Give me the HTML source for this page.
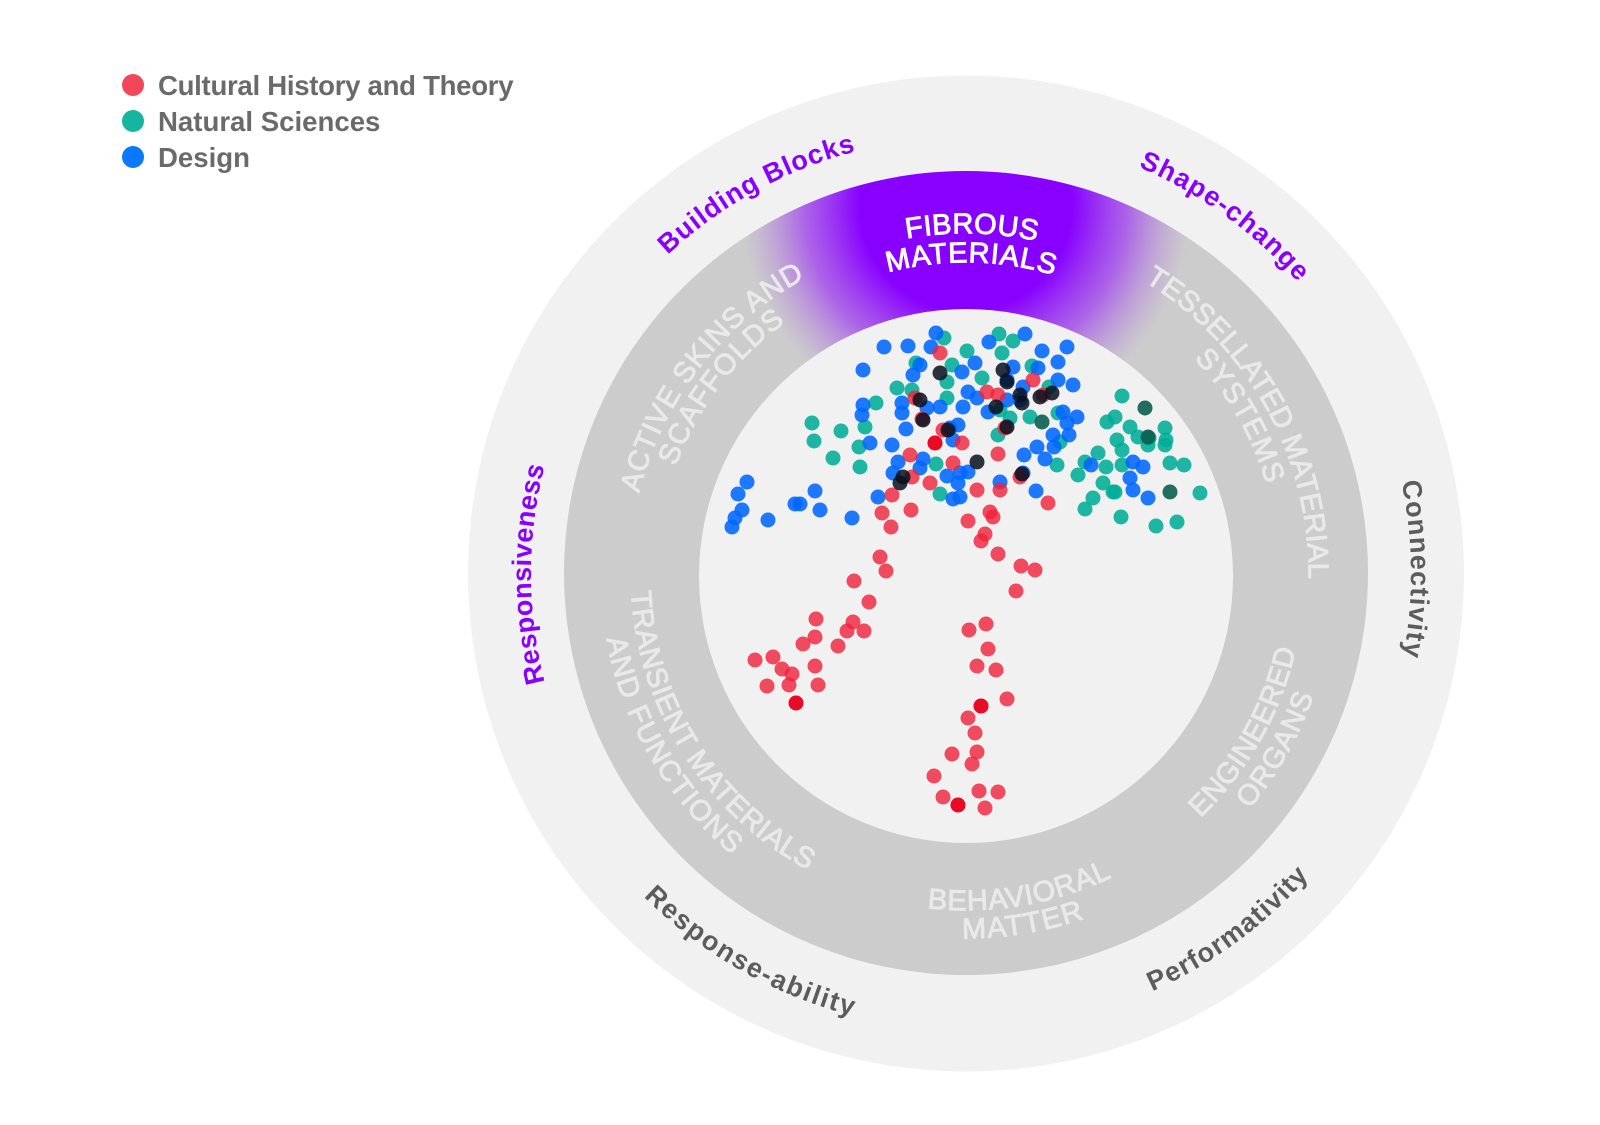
<!DOCTYPE html>
<html>
<head>
<meta charset="utf-8">
<style>
html,body{margin:0;padding:0;background:#fff;}
body{width:1600px;height:1125px;overflow:hidden;}
svg{display:block;}
.leg{font-family:"Liberation Sans",Arial,sans-serif;font-weight:bold;font-size:27.6px;fill:#6a6a6a;}
.out{font-family:"Liberation Sans",Arial,sans-serif;font-weight:bold;font-size:27px;}
.ring{font-family:"Liberation Sans",Arial,sans-serif;font-weight:normal;font-size:29px;fill:#e9e9e9;stroke:#e9e9e9;stroke-width:0.9px;}
.wh{fill:#ffffff;stroke:#ffffff;}
</style>
</head>
<body>
<svg width="1600" height="1125" viewBox="0 0 1600 1125" xmlns="http://www.w3.org/2000/svg">
<defs>
  <radialGradient id="pg" gradientUnits="userSpaceOnUse" cx="966" cy="205" r="225">
    <stop offset="0" stop-color="#8800ff" stop-opacity="1"/>
    <stop offset="0.47" stop-color="#8800ff" stop-opacity="1"/>
    <stop offset="0.72" stop-color="#9a2cf6" stop-opacity="0.65"/>
    <stop offset="1" stop-color="#b070e0" stop-opacity="0"/>
  </radialGradient>
  <path id="pc437" d="M-437 0A437 437 0 0 1 437 0"/>
  <path id="pc442" d="M-442 0A442 442 0 0 1 442 0"/>
  <path id="pc435" d="M-435 0A435 435 0 0 1 435 0"/>
  <path id="pc445" d="M-445 0A445 445 0 0 1 445 0"/>
  <path id="pc340" d="M-340.6 0A340.6 340.6 0 0 1 340.6 0"/>
  <path id="pc311" d="M-311.6 0A311.6 311.6 0 0 1 311.6 0"/>
  <path id="pc336" d="M-336.6 0A336.6 336.6 0 0 1 336.6 0"/>
  <path id="pc309" d="M-309.6 0A309.6 309.6 0 0 1 309.6 0"/>
  <path id="pc342" d="M-342.6 0A342.6 342.6 0 0 1 342.6 0"/>
  <path id="pc313" d="M-313.6 0A313.6 313.6 0 0 1 313.6 0"/>
  <path id="pa456" d="M-456 0A456 456 0 0 0 456 0"/>
  <path id="pa457" d="M-457 0A457 457 0 0 0 457 0"/>
  <path id="pa338" d="M-338.4 0A338.4 338.4 0 0 0 338.4 0"/>
  <path id="pa368" d="M-368.4 0A368.4 368.4 0 0 0 368.4 0"/>
  <path id="pa336" d="M-336.4 0A336.4 336.4 0 0 0 336.4 0"/>
  <path id="pa364" d="M-364.4 0A364.4 364.4 0 0 0 364.4 0"/>
  <path id="pa335" d="M-335.4 0A335.4 335.4 0 0 0 335.4 0"/>
  <path id="pa365" d="M-365.4 0A365.4 365.4 0 0 0 365.4 0"/>
</defs>

<!-- Legend -->
<circle cx="133" cy="85" r="11" fill="#f2475a"/>
<circle cx="133" cy="121" r="11" fill="#15b5a0"/>
<circle cx="133" cy="157" r="11" fill="#0a78ff"/>
<text class="leg" x="158" y="95" style="letter-spacing:-0.3px">Cultural History and Theory</text>
<text class="leg" x="158" y="131">Natural Sciences</text>
<text class="leg" x="158" y="167">Design</text>

<!-- Rings -->
<circle cx="966" cy="573.5" r="498" fill="#f1f1f1"/>
<circle cx="966" cy="573" r="402" fill="#cccccc"/>
<circle cx="966" cy="573" r="402" fill="url(#pg)"/>
<circle cx="966" cy="576" r="267" fill="#f1f1f1"/>

<!-- Outer labels -->
<text class="out" fill="#8800ff" letter-spacing="0.9" text-anchor="middle" transform="translate(966,574) rotate(-28.8)"><textPath href="#pc437" startOffset="50%">Building Blocks</textPath></text>
<text class="out" fill="#8800ff" letter-spacing="1.27" text-anchor="middle" transform="translate(966,574) rotate(35.9)"><textPath href="#pc442" startOffset="50%">Shape-change</textPath></text>
<text class="out" fill="#8800ff" letter-spacing="0.4" text-anchor="middle" transform="translate(966,574) rotate(-90)"><textPath href="#pc435" startOffset="50%">Responsiveness</textPath></text>
<text class="out" fill="#5c5c5c" letter-spacing="1.2" text-anchor="middle" transform="translate(966,574) rotate(89.4)"><textPath href="#pc445" startOffset="50%">Connectivity</textPath></text>
<text class="out" fill="#5c5c5c" letter-spacing="1.8" text-anchor="middle" transform="translate(966,574) rotate(29.6)"><textPath href="#pa456" startOffset="50%">Response-ability</textPath></text>
<text class="out" fill="#5c5c5c" letter-spacing="1.1" text-anchor="middle" transform="translate(966,574) rotate(-36.4)"><textPath href="#pa457" startOffset="50%">Performativity</textPath></text>

<!-- Ring labels -->
<text class="ring wh" letter-spacing="0.33" text-anchor="middle" transform="translate(966,574) rotate(1)"><textPath href="#pc340" startOffset="50%">FIBROUS</textPath></text>
<text class="ring wh" letter-spacing="0.73" text-anchor="middle" transform="translate(966,574) rotate(1)"><textPath href="#pc311" startOffset="50%">MATERIALS</textPath></text>
<text class="ring" letter-spacing="0.78" text-anchor="middle" transform="translate(966,574) rotate(-52.3)"><textPath href="#pc336" startOffset="50%">ACTIVE SKINS AND</textPath></text>
<text class="ring" letter-spacing="1.2" text-anchor="middle" transform="translate(966,574) rotate(-52.6)"><textPath href="#pc309" startOffset="50%">SCAFFOLDS</textPath></text>
<text class="ring" letter-spacing="0.1" text-anchor="middle" transform="translate(966,574) rotate(61.1)"><textPath href="#pc342" startOffset="50%">TESSELLATED MATERIAL</textPath></text>
<text class="ring" letter-spacing="1.3" text-anchor="middle" transform="translate(966,574) rotate(60.1)"><textPath href="#pc313" startOffset="50%">SYSTEMS</textPath></text>
<text class="ring" letter-spacing="0.5" text-anchor="middle" transform="translate(966,574) rotate(-60.5)"><textPath href="#pa338" startOffset="50%">ENGINEERED</textPath></text>
<text class="ring" letter-spacing="1.06" text-anchor="middle" transform="translate(966,574) rotate(-60.6)"><textPath href="#pa368" startOffset="50%">ORGANS</textPath></text>
<text class="ring" letter-spacing="0.75" text-anchor="middle" transform="translate(966,574) rotate(-9.6)"><textPath href="#pa336" startOffset="50%">BEHAVIORAL</textPath></text>
<text class="ring" letter-spacing="1.5" text-anchor="middle" transform="translate(966,574) rotate(-9.3)"><textPath href="#pa364" startOffset="50%">MATTER</textPath></text>
<text class="ring" letter-spacing="0.6" text-anchor="middle" transform="translate(966,574) rotate(57.5)"><textPath href="#pa335" startOffset="50%">TRANSIENT MATERIALS</textPath></text>
<text class="ring" letter-spacing="1.4" text-anchor="middle" transform="translate(966,574) rotate(59.7)"><textPath href="#pa365" startOffset="50%">AND FUNCTIONS</textPath></text>

<!-- Teal dots -->
<g fill="#00ad96" fill-opacity="0.88">
<circle cx="944" cy="338" r="7.5"/><circle cx="999" cy="334" r="7.5"/><circle cx="1013" cy="341" r="7.5"/><circle cx="967" cy="351" r="7.5"/>
<circle cx="1002" cy="353" r="7.5"/><circle cx="952" cy="365" r="7.5"/><circle cx="1032" cy="366" r="7.5"/><circle cx="897" cy="388" r="7.5"/>
<circle cx="912" cy="390" r="7.5"/><circle cx="947" cy="382" r="7.5"/><circle cx="982" cy="378" r="7.5"/><circle cx="876" cy="403" r="7.5"/>
<circle cx="865" cy="427" r="7.5"/><circle cx="812" cy="423" r="7.5"/><circle cx="814" cy="441" r="7.5"/><circle cx="841" cy="431" r="7.5"/>
<circle cx="833" cy="458" r="7.5"/><circle cx="859" cy="447" r="7.5"/><circle cx="860" cy="467" r="7.5"/><circle cx="947" cy="398" r="7.5"/>
<circle cx="1010" cy="418" r="7.5"/><circle cx="1030" cy="417" r="7.5"/><circle cx="998" cy="435" r="7.5"/><circle cx="936" cy="464" r="7.5"/>
<circle cx="940" cy="494" r="7.5"/><circle cx="1057" cy="465" r="7.5"/><circle cx="1122" cy="396" r="7.5"/><circle cx="1115" cy="417" r="7.5"/>
<circle cx="1107" cy="422" r="7.5"/><circle cx="1130" cy="427" r="7.5"/><circle cx="1138" cy="437" r="7.5"/><circle cx="1149" cy="438" r="7.5"/>
<circle cx="1165" cy="428" r="7.5"/><circle cx="1165" cy="445" r="7.5"/><circle cx="1148" cy="445" r="7.5"/><circle cx="1117" cy="440" r="7.5"/>
<circle cx="1122" cy="450" r="7.5"/><circle cx="1098" cy="453" r="7.5"/><circle cx="1085" cy="462" r="7.5"/><circle cx="1106" cy="467" r="7.5"/>
<circle cx="1122" cy="465" r="7.5"/><circle cx="1078" cy="475" r="7.5"/><circle cx="1103" cy="483" r="7.5"/><circle cx="1115" cy="492" r="7.5"/>
<circle cx="1170" cy="463" r="7.5"/><circle cx="1184" cy="465" r="7.5"/><circle cx="1200" cy="493" r="7.5"/><circle cx="1093" cy="498" r="7.5"/>
<circle cx="1085" cy="509" r="7.5"/><circle cx="1121" cy="517" r="7.5"/><circle cx="1156" cy="526" r="7.5"/><circle cx="1177" cy="522" r="7.5"/>
<circle cx="1058" cy="413" r="7.5"/><circle cx="1049" cy="387" r="7.5"/><circle cx="1060" cy="442" r="7.5"/><circle cx="916" cy="363" r="7.5"/>
<circle cx="1000" cy="410" r="7.5"/><circle cx="1166" cy="440" r="7.5"/><circle cx="1113" cy="492" r="7.5"/>
</g>
<g fill="#0b5e50" fill-opacity="0.9">
<circle cx="1042" cy="422" r="7.5"/><circle cx="1145" cy="408" r="7.5"/><circle cx="1170" cy="492" r="7.5"/><circle cx="1148" cy="437" r="7.5"/>
</g>

<!-- Blue dots -->
<g fill="#0066ff" fill-opacity="0.88">
<circle cx="936" cy="333" r="7.5"/><circle cx="884" cy="347" r="7.5"/><circle cx="908" cy="346" r="7.5"/><circle cx="931" cy="347" r="7.5"/>
<circle cx="1025" cy="334" r="7.5"/><circle cx="989" cy="342" r="7.5"/><circle cx="1042" cy="351" r="7.5"/><circle cx="1067" cy="347" r="7.5"/>
<circle cx="1058" cy="362" r="7.5"/><circle cx="863" cy="370" r="7.5"/><circle cx="920" cy="365" r="7.5"/><circle cx="913" cy="375" r="7.5"/>
<circle cx="975" cy="363" r="7.5"/><circle cx="962" cy="372" r="7.5"/><circle cx="1013" cy="367" r="7.5"/><circle cx="1038" cy="368" r="7.5"/>
<circle cx="1073" cy="385" r="7.5"/><circle cx="1058" cy="380" r="7.5"/><circle cx="1023" cy="387" r="7.5"/><circle cx="1007" cy="380" r="7.5"/>
<circle cx="968" cy="392" r="7.5"/><circle cx="977" cy="398" r="7.5"/><circle cx="963" cy="407" r="7.5"/><circle cx="940" cy="407" r="7.5"/>
<circle cx="927" cy="408" r="7.5"/><circle cx="902" cy="403" r="7.5"/><circle cx="902" cy="413" r="7.5"/><circle cx="863" cy="405" r="7.5"/>
<circle cx="862" cy="415" r="7.5"/><circle cx="988" cy="412" r="7.5"/><circle cx="1007" cy="400" r="7.5"/><circle cx="1020" cy="400" r="7.5"/>
<circle cx="1063" cy="412" r="7.5"/><circle cx="1077" cy="417" r="7.5"/><circle cx="1067" cy="423" r="7.5"/><circle cx="1053" cy="435" r="7.5"/>
<circle cx="1069" cy="435" r="7.5"/><circle cx="958" cy="425" r="7.5"/><circle cx="950" cy="428" r="7.5"/><circle cx="953" cy="440" r="7.5"/>
<circle cx="906" cy="429" r="7.5"/><circle cx="870" cy="443" r="7.5"/><circle cx="892" cy="445" r="7.5"/><circle cx="1037" cy="447" r="7.5"/>
<circle cx="1024" cy="455" r="7.5"/><circle cx="1045" cy="459" r="7.5"/><circle cx="1054" cy="447" r="7.5"/><circle cx="923" cy="459" r="7.5"/>
<circle cx="920" cy="468" r="7.5"/><circle cx="898" cy="462" r="7.5"/><circle cx="893" cy="473" r="7.5"/><circle cx="947" cy="476" r="7.5"/>
<circle cx="960" cy="473" r="7.5"/><circle cx="968" cy="472" r="7.5"/><circle cx="958" cy="483" r="7.5"/><circle cx="953" cy="499" r="7.5"/>
<circle cx="960" cy="497" r="7.5"/><circle cx="1000" cy="482" r="7.5"/><circle cx="1023" cy="473" r="7.5"/><circle cx="1036" cy="491" r="7.5"/>
<circle cx="1133" cy="462" r="7.5"/><circle cx="1143" cy="467" r="7.5"/><circle cx="1130" cy="478" r="7.5"/><circle cx="1133" cy="490" r="7.5"/>
<circle cx="1148" cy="498" r="7.5"/><circle cx="1091" cy="465" r="7.5"/><circle cx="878" cy="497" r="7.5"/><circle cx="747" cy="482" r="7.5"/>
<circle cx="738" cy="494" r="7.5"/><circle cx="742" cy="510" r="7.5"/><circle cx="735" cy="518" r="7.5"/><circle cx="732" cy="527" r="7.5"/>
<circle cx="768" cy="520" r="7.5"/><circle cx="795" cy="504" r="7.5"/><circle cx="800" cy="504" r="7.5"/><circle cx="815" cy="491" r="7.5"/>
<circle cx="820" cy="510" r="7.5"/><circle cx="852" cy="518" r="7.5"/>
</g>

<!-- Red dots -->
<g fill="#f0203a" fill-opacity="0.8">
<circle cx="940" cy="353" r="7.5"/><circle cx="987" cy="392" r="7.5"/><circle cx="998" cy="395" r="7.5"/><circle cx="1033" cy="380" r="7.5"/>
<circle cx="1043" cy="395" r="7.5"/><circle cx="915" cy="398" r="7.5"/><circle cx="922" cy="419" r="7.5"/><circle cx="943" cy="430" r="7.5"/>
<circle cx="935" cy="443" r="7.5"/><circle cx="962" cy="443" r="7.5"/><circle cx="910" cy="455" r="7.5"/><circle cx="953" cy="463" r="7.5"/>
<circle cx="998" cy="454" r="7.5"/><circle cx="1005" cy="428" r="7.5"/><circle cx="930" cy="483" r="7.5"/><circle cx="912" cy="477" r="7.5"/>
<circle cx="892" cy="495" r="7.5"/><circle cx="882" cy="513" r="7.5"/><circle cx="891" cy="527" r="7.5"/><circle cx="911" cy="510" r="7.5"/>
<circle cx="977" cy="490" r="7.5"/><circle cx="1000" cy="490" r="7.5"/><circle cx="1020" cy="477" r="7.5"/><circle cx="1048" cy="503" r="7.5"/>
<circle cx="968" cy="521" r="7.5"/><circle cx="990" cy="512" r="7.5"/><circle cx="993" cy="517" r="7.5"/><circle cx="985" cy="534" r="7.5"/>
<circle cx="981" cy="541" r="7.5"/><circle cx="998" cy="554" r="7.5"/><circle cx="1021" cy="566" r="7.5"/><circle cx="1035" cy="570" r="7.5"/>
<circle cx="1016" cy="591" r="7.5"/>
<circle cx="854" cy="581" r="7.5"/><circle cx="869" cy="602" r="7.5"/><circle cx="816" cy="619" r="7.5"/><circle cx="815" cy="637" r="7.5"/>
<circle cx="803" cy="644" r="7.5"/><circle cx="853" cy="622" r="7.5"/><circle cx="847" cy="631" r="7.5"/><circle cx="864" cy="631" r="7.5"/>
<circle cx="838" cy="646" r="7.5"/><circle cx="755" cy="660" r="7.5"/><circle cx="773" cy="657" r="7.5"/><circle cx="782" cy="669" r="7.5"/>
<circle cx="792" cy="674" r="7.5"/><circle cx="789" cy="685" r="7.5"/><circle cx="767" cy="686" r="7.5"/><circle cx="818" cy="685" r="7.5"/>
<circle cx="815" cy="666" r="7.5"/><circle cx="796" cy="703" r="7.5"/><circle cx="886" cy="571" r="7.5"/><circle cx="880" cy="557" r="7.5"/>
<circle cx="969" cy="630" r="7.5"/><circle cx="986" cy="624" r="7.5"/><circle cx="988" cy="649" r="7.5"/><circle cx="977" cy="666" r="7.5"/>
<circle cx="996" cy="670" r="7.5"/><circle cx="1007" cy="699" r="7.5"/><circle cx="981" cy="706" r="7.5"/><circle cx="968" cy="718" r="7.5"/>
<circle cx="975" cy="733" r="7.5"/><circle cx="977" cy="752" r="7.5"/><circle cx="952" cy="754" r="7.5"/><circle cx="972" cy="764" r="7.5"/>
<circle cx="934" cy="776" r="7.5"/><circle cx="943" cy="797" r="7.5"/><circle cx="958" cy="805" r="7.5"/><circle cx="979" cy="791" r="7.5"/>
<circle cx="998" cy="792" r="7.5"/><circle cx="985" cy="808" r="7.5"/>
</g>
<g fill="#e8001c" fill-opacity="0.85">
<circle cx="796" cy="703" r="7.5"/><circle cx="981" cy="706" r="7.5"/><circle cx="958" cy="805" r="7.5"/><circle cx="935" cy="443" r="7.5"/>
</g>

<!-- Dark overlaps -->
<g fill="#08101f" fill-opacity="0.85">
<circle cx="940" cy="373" r="7.5"/><circle cx="1003" cy="370" r="7.5"/><circle cx="1007" cy="382" r="7.5"/><circle cx="996" cy="407" r="7.5"/>
<circle cx="1022" cy="403" r="7.5"/><circle cx="1020" cy="395" r="7.5"/><circle cx="1040" cy="397" r="7.5"/><circle cx="1052" cy="393" r="7.5"/>
<circle cx="923" cy="420" r="7.5"/><circle cx="948" cy="430" r="7.5"/><circle cx="977" cy="462" r="7.5"/><circle cx="900" cy="483" r="7.5"/>
<circle cx="903" cy="477" r="7.5"/><circle cx="1022" cy="474" r="7.5"/><circle cx="1007" cy="427" r="7.5"/><circle cx="920" cy="400" r="7.5"/>
</g>
</svg>
</body>
</html>
